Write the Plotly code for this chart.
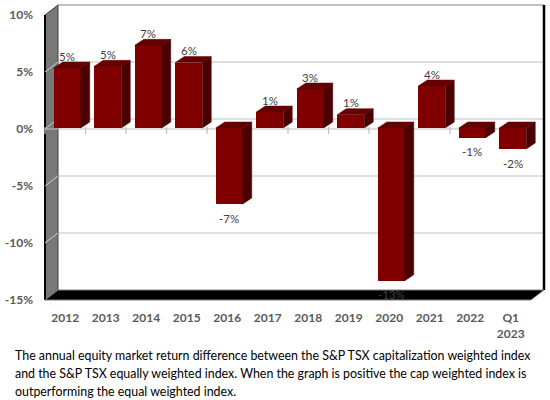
import plotly.graph_objects as go

# ---------------- data ----------------
categories = ["2012", "2013", "2014", "2015", "2016", "2017", "2018", "2019",
              "2020", "2021", "2022", "Q1<br>2023"]
values = [5.26, 5.41, 7.25, 5.74, -6.67, 1.40, 3.42, 1.17, -13.4, 3.68, -0.85, -1.85]
value_labels = ["5%", "5%", "7%", "6%", "-7%", "1%", "3%", "1%", "-13%", "4%", "-1%", "-2%"]
y_tick_values = [-15, -10, -5, 0, 5, 10]
y_tick_labels = ["-15%", "-10%", "-5%", "0%", "5%", "10%"]
caption_lines = [
    "The annual equity market return difference between the S&P TSX capitalization weighted index",
    "and the S&P TSX equally weighted index. When the graph is positive the cap weighted index is",
    "outperforming the equal weighted index.",
]

# ---------------- geometry / style ----------------
W, H = 550, 400
PL, PR, PT, PB = 43, 547, 3, 303          # plot area pixel bounds
X0_PX, PXX = 45, 40.5                     # pixel of x=-0.5 and px per category
Y0_PX, PXY = 129, 11.4                    # pixel of y=0 and px per percent
xr = [-0.5 - (X0_PX - PL) / PXX, -0.5 + (PR - X0_PX) / PXX]
yr = [(Y0_PX - PB) / PXY, (Y0_PX - PT) / PXY]

DX, DY = 13 / PXX, 10 / PXY               # wall depth
BDX, BDY = 9 / PXX, 6 / PXY               # bar depth
SX, SY = 2 / PXX, 1 / PXY                 # bar front shift
BAR_W = 27 / PXX

FRONT = "#800000"
SIDE = "#4a0000"
TOP = "#650000"
FONT = "Lato, 'Open Sans', sans-serif"
n = len(categories)
idx = list(range(n))
ymin, ymax = y_tick_values[0], y_tick_values[-1]
xl_edge, xr_edge = -0.5, n - 0.5

fig = go.Figure()

# 3D side and top faces of bars
sx, sy, tx, ty = [], [], [], []
for i, v in zip(idx, values):
    c = i + SX
    x_l, x_r = c - BAR_W / 2, c + BAR_W / 2
    top = max(v, 0) + SY
    bot = min(v, 0) + SY
    sx += [x_r, x_r + BDX, x_r + BDX, x_r, x_r, None]
    sy += [top, top + BDY, bot + BDY, bot, top, None]
    tx += [x_l, x_l + BDX, x_r + BDX, x_r, x_l, None]
    ty += [top, top + BDY, top + BDY, top, top, None]

fig.add_trace(go.Bar(x=[i + SX for i in idx], y=values, base=SY, width=BAR_W,
                     marker=dict(color=FRONT, line=dict(width=0)), hoverinfo="skip"))
fig.add_trace(go.Scatter(x=sx, y=sy, fill="toself", fillcolor=SIDE, mode="lines",
                         line=dict(color=SIDE, width=0.5), hoverinfo="skip"))
fig.add_trace(go.Scatter(x=tx, y=ty, fill="toself", fillcolor=TOP, mode="lines",
                         line=dict(color=TOP, width=0.5), hoverinfo="skip"))

shapes = []
# back wall
shapes.append(dict(type="rect", xref="x", yref="y", x0=xl_edge + DX, x1=xr_edge + DX,
                   y0=ymin + DY, y1=ymax + DY, fillcolor="white", line=dict(width=0),
                   layer="below"))
# back wall gridlines
for t in y_tick_values[1:]:
    col = "#c0c0c0" if t == ymax else "#bfbfbf"
    shapes.append(dict(type="line", xref="x", yref="y", x0=xl_edge + DX, x1=xr_edge + DX,
                       y0=t + DY, y1=t + DY, line=dict(color=col, width=2 if t == ymax else 1.2),
                       layer="below"))
# right border of back wall
shapes.append(dict(type="line", xref="x", yref="y", x0=xr_edge + DX, x1=xr_edge + DX,
                   y0=ymin + DY, y1=ymax + DY, line=dict(color="black", width=2.5), layer="below"))
# left wall
shapes.append(dict(type="path", xref="x", yref="y",
                   path=f"M {xl_edge},{ymin} L {xl_edge},{ymax} L {xl_edge + DX},{ymax + DY} "
                        f"L {xl_edge + DX},{ymin + DY} Z",
                   fillcolor="#787878", line=dict(color="#404040", width=1), layer="below"))
shapes.append(dict(type="line", xref="x", yref="y", x0=xl_edge, x1=xl_edge, y0=ymin, y1=ymax,
                   line=dict(color="black", width=2), layer="below"))
for t in y_tick_values[1:-1]:
    shapes.append(dict(type="line", xref="x", yref="y", x0=xl_edge, x1=xl_edge + DX,
                       y0=t, y1=t + DY, line=dict(color="#d0d0d0", width=1), layer="below"))
# floor
shapes.append(dict(type="path", xref="x", yref="y",
                   path=f"M {xl_edge},{ymin} L {xl_edge + DX},{ymin + DY} L {xr_edge + DX},{ymin + DY} "
                        f"L {xr_edge},{ymin} Z",
                   fillcolor="black", line=dict(color="#808080", width=1), layer="below"))
# zero axis line with category ticks
shapes.append(dict(type="line", xref="x", yref="y", x0=xl_edge, x1=xr_edge, y0=0, y1=0,
                   line=dict(color="#bfbfbf", width=1.2), layer="below"))
for k in range(n + 1):
    shapes.append(dict(type="line", xref="x", yref="y", x0=xl_edge + k, x1=xl_edge + k,
                       y0=2 / PXY, y1=-5 / PXY, line=dict(color="#bfbfbf", width=1.2),
                       layer="below"))

annotations = []
for i, v, lab in zip(idx, values, value_labels):
    annotations.append(dict(x=i + SX, y=v + SY, xref="x", yref="y", text=lab, showarrow=False,
                            xanchor="center", yanchor="middle", yshift=12 if v > 0 else -14,
                            font=dict(family=FONT, size=11.5, color="#404040")))
for j, line in enumerate(caption_lines):
    yc = 355 + 18 * j
    annotations.append(dict(x=(13 - PL) / (PR - PL), y=(PB - yc) / (PB - PT), xref="paper",
                            yref="paper", text=line, showarrow=False, xanchor="left",
                            yanchor="middle", font=dict(family=FONT, size=12.4, color="black")))

fig.update_layout(
    width=W, height=H,
    margin=dict(l=PL, r=W - PR, t=PT, b=H - PB, pad=0, autoexpand=False),
    paper_bgcolor="white", plot_bgcolor="white",
    showlegend=False, shapes=shapes, annotations=annotations,
    xaxis=dict(range=xr, tickvals=idx, ticktext=categories, showgrid=False, zeroline=False,
               showline=False, ticks="", ticklabelstandoff=6, fixedrange=True, automargin=False,
               tickfont=dict(family=FONT, size=12, color="#595959", weight="bold")),
    yaxis=dict(range=yr, tickvals=y_tick_values, ticktext=y_tick_labels, showgrid=False,
               zeroline=False, showline=False, ticks="", ticklabelstandoff=9, fixedrange=True,
               automargin=False,
               tickfont=dict(family=FONT, size=12, color="#595959", weight="bold")),
    bargap=0,
)

fig.write_html("out.html", config={"displayModeBar": False, "staticPlot": True},
               post_script="document.body.style.margin='0';document.body.style.overflow='hidden';")
